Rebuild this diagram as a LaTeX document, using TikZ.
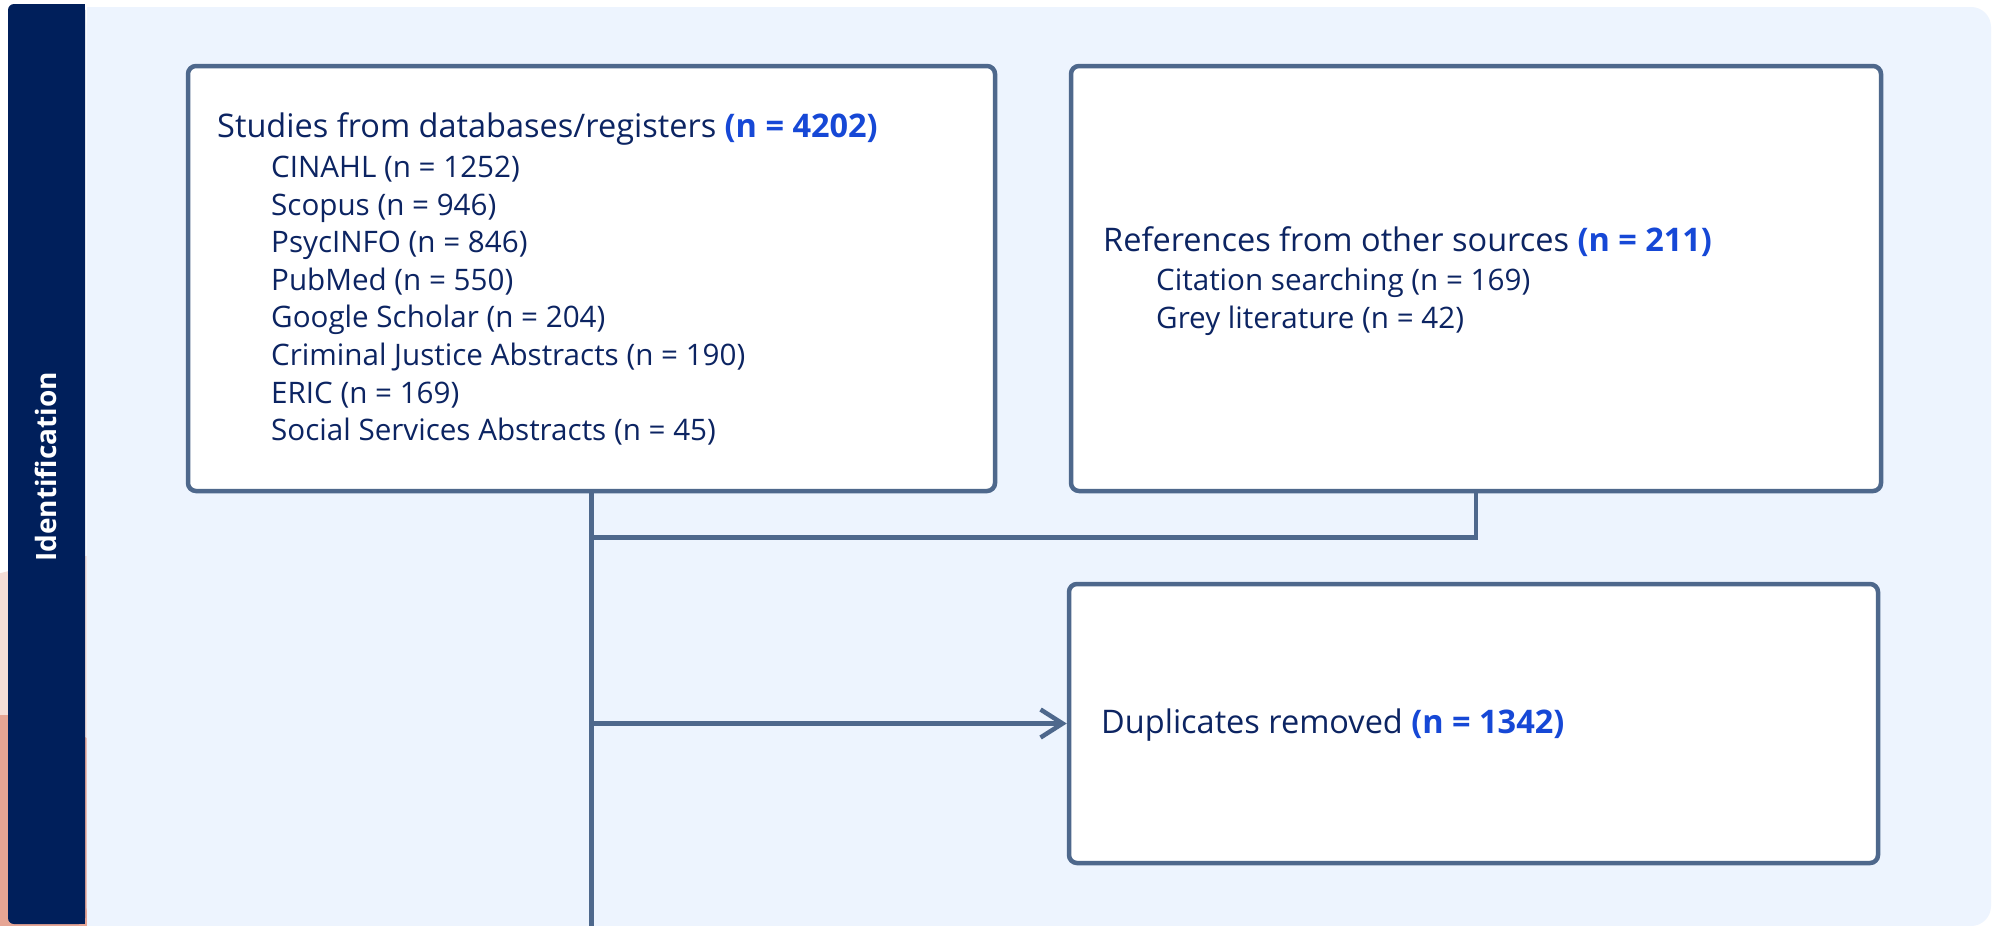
\documentclass[tikz,border=0pt]{standalone}
\usepackage{fontspec}
\setmainfont{Open Sans}
\usetikzlibrary{arrows.meta}

\definecolor{inkblue}{RGB}{12,36,98}
\definecolor{numblue}{RGB}{22,72,214}
\definecolor{linec}{RGB}{78,104,140}
\definecolor{barnavy}{RGB}{0,31,91}
\definecolor{panelblue}{RGB}{237,244,254}
\definecolor{pinklight}{RGB}{245,222,215}
\definecolor{salmon}{RGB}{230,165,148}

\newcommand{\nval}[1]{\textcolor{numblue}{\bfseries #1}}

\begin{document}
\begin{tikzpicture}[x=1pt,y=-1pt,
  box/.style={draw=linec, line width=4.5pt, fill=white, rounded corners=8pt, inner sep=0pt},
  head/.style={anchor=base west, inner sep=0pt, text=inkblue, font=\fontsize{32.5}{38}\selectfont},
  item/.style={anchor=base west, inner sep=0pt, text=inkblue, font=\fontsize{29.6}{35}\selectfont},
  conn/.style={draw=linec, line width=4.5pt},
  stagelabel/.style={rotate=90, inner sep=0pt, text=white, font=\bfseries\fontsize{28}{32}\selectfont},
]
\useasboundingbox (0,0) rectangle (1992,926);
\clip (0,0) rectangle (1992,926);
\fill[white] (0,0) rectangle (1992,926);

% decorative shapes behind the stage bar
\fill[pinklight] (200,1348) circle[radius=800];
\fill[salmon] (5,871) circle[radius=156];

% light panel holding the flow
\fill[panelblue, rounded corners=20pt] (86.5,7) rectangle (1991,926);
\fill[panelblue] (86.5,7) rectangle (150,926);

% stage bar
\fill[barnavy, rounded corners=6pt] (8,4) rectangle (85,924);
\fill[barnavy] (50,4) rectangle (85,924);
\node[stagelabel] (stage) at (46,467) {Identification};

% boxes
\node[box, minimum width=807pt, minimum height=425pt] (db) at (591.5,278.5) {};
\node[box, minimum width=810pt, minimum height=425pt] (other) at (1476,278.5) {};
\node[box, minimum width=809pt, minimum height=279pt] (dup) at (1473.5,723.5) {};

% database records
\node[head] (dbh) at (217,137.5) {Studies from databases/registers \nval{(n = 4202)}};
\node[item] (db1) at (271,177.5) {CINAHL (n = 1252)};
\node[item] (db2) at (271,215.1) {Scopus (n = 946)};
\node[item] (db3) at (271,252.7) {PsycINFO (n = 846)};
\node[item] (db4) at (271,290.3) {PubMed (n = 550)};
\node[item] (db5) at (271,327.9) {Google Scholar (n = 204)};
\node[item] (db6) at (271,365.5) {Criminal Justice Abstracts (n = 190)};
\node[item] (db7) at (271,403.1) {ERIC (n = 169)};
\node[item] (db8) at (271,440.7) {Social Services Abstracts (n = 45)};

% other sources
\node[head] (oth) at (1103,251.7) {References from other sources \nval{(n = 211)}};
\node[item] (oth1) at (1156,290) {Citation searching (n = 169)};
\node[item] (oth2) at (1156,328) {Grey literature (n = 42)};

% duplicates
\node[head] (duph) at (1101,733) {Duplicates removed \nval{(n = 1342)}};

% connectors
\coordinate (merge) at (591.5,537.5);
\coordinate (branch) at (591.5,723.5);
\coordinate (bottom) at (591.5,932);
\draw[conn] (db.south) -- (bottom);
\draw[conn] (other.south) |- (merge);
\draw[conn, -{Straight Barb[length=22pt,width=28pt]}] (branch) -- (dup.west);
\end{tikzpicture}
\end{document}
